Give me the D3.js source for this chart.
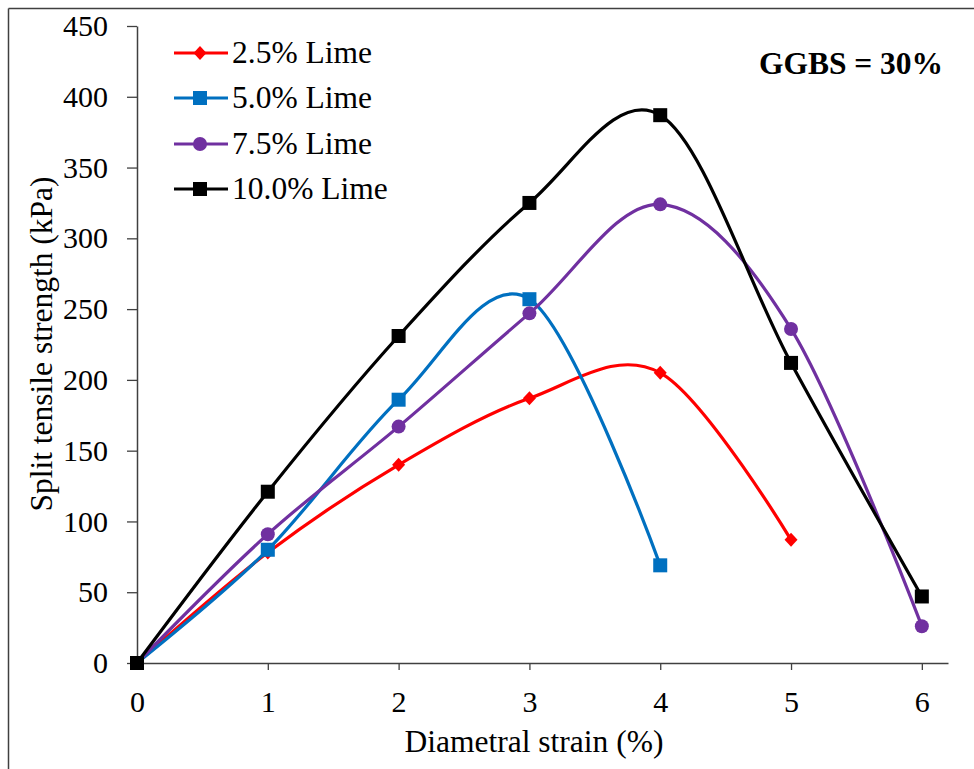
<!DOCTYPE html>
<html><head><meta charset="utf-8">
<script src="https://cdn.jsdelivr.net/npm/d3@7"></script>
<style>body{margin:0;background:#fff}svg{display:block}text{font-family:"Liberation Serif","Times New Roman",serif;fill:#000}</style>
</head><body><svg id="c" width="974" height="769"></svg>
<script>
const strain = [0,1,2,3,4,5,6];
const xTicks = [0,1,2,3,4,5,6];
const yTicks = [0,50,100,150,200,250,300,350,400,450];
const lime25 = [0,78,140,187,205,87];
const lime50 = [0,80,186,257,69];
const lime75 = [0,91,167,247,324,236,26];
const lime100 = [0,121,231,325,387,212,47];
const seriesNames = ["2.5% Lime","5.0% Lime","7.5% Lime","10.0% Lime"];
const seriesColors = ["#FF0000","#0070C0","#7030A0","#000000"];
const seriesMarkers = ["diamond","square","circle","square"];
const seriesValues = [lime25, lime50, lime75, lime100];

const svg = d3.select("#c");
svg.append("line").attr("x1",8.5).attr("y1",8.5).attr("x2",974).attr("y2",8.5).attr("stroke","#404040").attr("stroke-width",1.5);
svg.append("line").attr("x1",8.5).attr("y1",8.5).attr("x2",8.5).attr("y2",769).attr("stroke","#404040").attr("stroke-width",1.5);

const x = d3.scaleLinear().domain([0,6.2]).range([137,948]);
const y = d3.scaleLinear().domain([0,450]).range([663,26]);

const xAxis = svg.append("g").attr("transform","translate(0,663)")
  .call(d3.axisBottom(x).tickValues(xTicks).tickSize(7).tickSizeOuter(0).tickPadding(21).tickFormat(d3.format("d")));
const yAxis = svg.append("g").attr("transform","translate(137,0)")
  .call(d3.axisLeft(y).tickValues(yTicks).tickSize(10).tickSizeOuter(0).tickPadding(19).tickFormat(d3.format("d")));
[xAxis,yAxis].forEach(g=>{
  g.select(".domain").attr("stroke","#404040").attr("stroke-width",1.5);
  g.selectAll(".tick line").attr("stroke","#404040").attr("stroke-width",1.3);
  g.selectAll("text").style("font-family","'Liberation Serif',serif").style("font-size","30px").attr("fill","#000");
});

svg.append("text").attr("x",534).attr("y",752).attr("text-anchor","middle").style("font-size","31.5px").text("Diametral strain (%)");
svg.append("text").attr("transform","translate(52,344) rotate(-90)").attr("text-anchor","middle").style("font-size","31.5px").text("Split tensile strength (kPa)");
svg.append("text").attr("x",851).attr("y",74).attr("text-anchor","middle").style("font-size","31.5px").style("font-weight","bold").text("GGBS = 30%");

const line = d3.line().x((d,i)=>x(strain[i])).y(d=>y(d)).curve(d3.curveCardinal.tension(0));

function marker(g, type, cx, cy, color){
  if(type==="diamond"){
    g.append("path").attr("d",`M${cx},${cy-7}L${cx+6.5},${cy}L${cx},${cy+7}L${cx-6.5},${cy}Z`).attr("fill",color);
  } else if(type==="square"){
    g.append("rect").attr("x",cx-7).attr("y",cy-7).attr("width",14).attr("height",14).attr("fill",color);
  } else {
    g.append("circle").attr("cx",cx).attr("cy",cy).attr("r",7).attr("fill",color);
  }
}

seriesValues.forEach((vals,k)=>{
  const g = svg.append("g");
  g.append("path").datum(vals).attr("d",line).attr("fill","none").attr("stroke",seriesColors[k]).attr("stroke-width",3.2);
  vals.forEach((v,i)=>marker(g, seriesMarkers[k], x(strain[i]), y(v), seriesColors[k]));
});

const ly = [53,98,144,189];
seriesNames.forEach((n,k)=>{
  const g = svg.append("g");
  g.append("line").attr("x1",174).attr("x2",228).attr("y1",ly[k]).attr("y2",ly[k]).attr("stroke",seriesColors[k]).attr("stroke-width",3.2);
  marker(g, seriesMarkers[k], 200, ly[k], seriesColors[k]);
  g.append("text").attr("x",232).attr("y",ly[k]+10).style("font-size","31.5px").text(n);
});
</script></body></html>
